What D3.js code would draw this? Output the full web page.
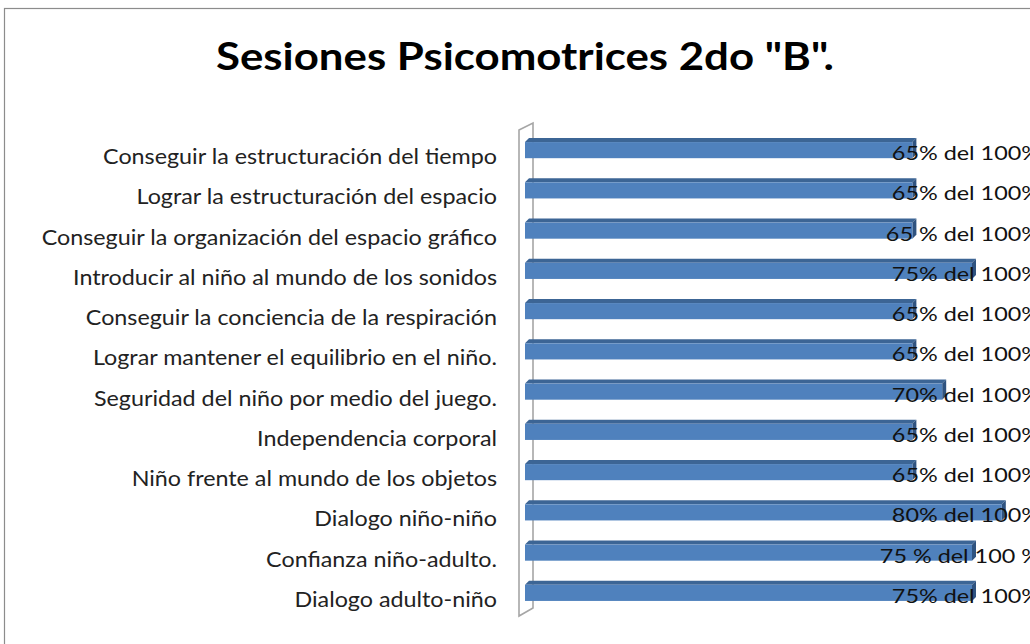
<!DOCTYPE html>
<html>
<head>
<meta charset="utf-8">
<script src="https://d3js.org/d3.v7.min.js"></script>
<style>
  body { margin: 0; background: #fff; }
  svg { display: block; }
</style>
</head>
<body>
<div id="chart"></div>
<script>
// chart data
const categories = [
  "Conseguir la estructuración del tiempo",
  "Lograr la estructuración del espacio",
  "Conseguir la organización del espacio gráfico",
  "Introducir al niño al mundo de los sonidos",
  "Conseguir la conciencia de la respiración",
  "Lograr mantener el equilibrio en el niño.",
  "Seguridad del niño por medio del juego.",
  "Independencia corporal",
  "Niño frente al mundo de los objetos",
  "Dialogo niño-niño",
  "Confianza niño-adulto.",
  "Dialogo adulto-niño"
]
const values = [65, 65, 65, 75, 65, 65, 70, 65, 65, 80, 75, 75]
const valueLabels = [
  "65% del 100%", "65% del 100%", "65 % del 100%", "75% del 100%",
  "65% del 100%", "65% del 100%", "70% del 100%", "65% del 100%",
  "65% del 100%", "80% del 100%", "75 % del 100 %", "75% del 100%"
]
const title = 'Sesiones  Psicomotrices  2do "B".'

const width = 1030
const height = 644
const font = "Lato, 'Open Sans', sans-serif"

const svg = d3.select("#chart")
  .append("svg")
    .attr("width", width)
    .attr("height", height)

// outer chart frame
svg.append("rect")
  .attr("x", 4.5).attr("y", 8.5)
  .attr("width", width + 20).attr("height", height + 20)
  .attr("fill", "none")
  .attr("stroke", "#8c8c8c")
  .attr("stroke-width", 1.2)

svg.append("text")
  .attr("x", 525).attr("y", 70)
  .attr("text-anchor", "middle")
  .style("font-family", font)
  .style("font-weight", "bold")
  .style("font-size", "38px")
  .attr("textLength", 618)
  .attr("lengthAdjust", "spacingAndGlyphs")
  .text(title)

// scales
const x = d3.scaleLinear().domain([0, 100]).range([525, 1121])
const y = d3.scaleBand().domain(categories)
  .range([128, 611]).paddingInner(0.5).paddingOuter(0.25)

const depth = 4

// 3D wall of the category axis
const wallTop = 123, wallBot = 608
svg.append("path")
  .attr("d", `M519,${wallTop + 7} L533,${wallTop} L533,${wallBot} L519,${wallBot + 8} Z`)
  .attr("fill", "none")
  .attr("stroke", "#a6a6a6")
  .attr("stroke-width", 1.6)

// category labels (stretched a little horizontally, like the original)
svg.append("g").selectAll("text")
  .data(categories)
  .join("text")
    .attr("transform", d => `translate(497,${y(d) + y.bandwidth() / 2 + 16}) scale(1.11,1)`)
    .attr("text-anchor", "end")
    .style("font-family", font)
    .style("font-size", "21px")
    .style("fill", "#222")
    .text(d => d)

// bars
const bars = svg.append("g").selectAll("g")
  .data(values)
  .join("g")

bars.append("polygon") // top face
  .attr("points", (d, i) => {
    const t = y(categories[i]), x0 = x(0), x1 = x(d)
    return `${x0},${t + depth} ${x0 + depth},${t} ${x1 + depth},${t} ${x1},${t + depth}`
  })
  .attr("fill", "#3c6595")

bars.append("polygon") // side face
  .attr("points", (d, i) => {
    const t = y(categories[i]), b = t + y.bandwidth(), x1 = x(d)
    return `${x1},${t + depth} ${x1 + depth},${t} ${x1 + depth},${b - depth} ${x1},${b}`
  })
  .attr("fill", "#2f5380")

bars.append("rect") // front face
  .attr("x", x(0))
  .attr("y", (d, i) => y(categories[i]) + depth)
  .attr("width", d => x(d) - x(0))
  .attr("height", y.bandwidth() - depth)
  .attr("fill", "#4f81bd")

// data labels
svg.append("g").selectAll("text")
  .data(valueLabels)
  .join("text")
    .attr("transform", (d, i) => `translate(1040,${y(categories[i]) + y.bandwidth() / 2 + 12}) scale(1.2,1)`)
    .attr("text-anchor", "end")
    .style("font-family", font)
    .style("font-size", "19.5px")
    .style("fill", "#111")
    .text(d => d)
</script>
</body>
</html>
